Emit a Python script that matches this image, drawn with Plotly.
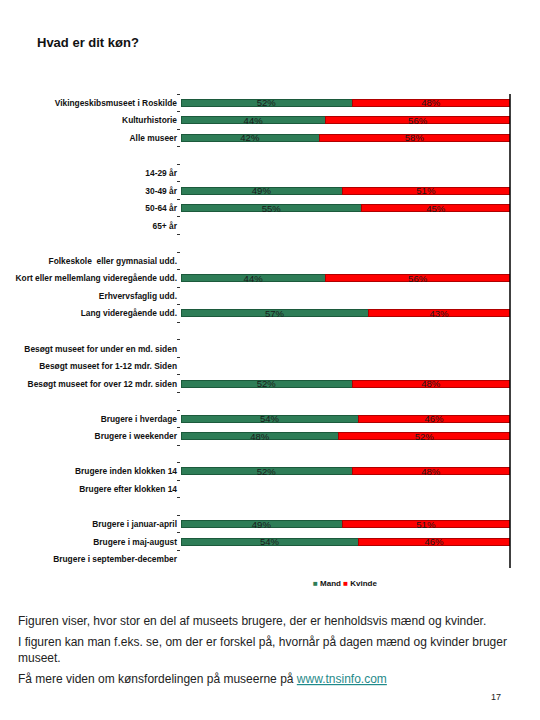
import plotly.graph_objects as go

categories = [
    "Vikingeskibsmuseet i Roskilde", "Kulturhistorie", "Alle museer", " ",
    "14-29 år", "30-49 år", "50-64 år", "65+ år", "  ",
    "Folkeskole  eller gymnasial udd.", "Kort eller mellemlang videregående udd.",
    "Erhvervsfaglig udd.", "Lang videregående udd.", "   ",
    "Besøgt museet for under en md. siden", "Besøgt museet for 1-12 mdr. Siden",
    "Besøgt museet for over 12 mdr. siden", "    ",
    "Brugere i hverdage", "Brugere i weekender", "     ",
    "Brugere inden klokken 14", "Brugere efter klokken 14", "      ",
    "Brugere i januar-april", "Brugere i maj-august", "Brugere i september-december",
]
mand = [52, 44, 42, None, None, 49, 55, None, None, None, 44, None, 57, None,
        None, None, 52, None, 54, 48, None, 52, None, None, 49, 54, None]
kvinde = [48, 56, 58, None, None, 51, 45, None, None, None, 56, None, 43, None,
          None, None, 48, None, 46, 52, None, 48, None, None, 51, 46, None]

GREEN = "#2e7d57"
RED = "#ff0000"

def labels(vals):
    return [f"{v}%" if v is not None else "" for v in vals]

fig = go.Figure()
fig.add_trace(go.Bar(
    y=categories, x=mand, orientation="h", name="Mand",
    marker=dict(color=GREEN, line=dict(color="#1c5a3c", width=1)),
    text=labels(mand), textposition="inside", insidetextanchor="middle",
    textfont=dict(size=9.5, color="#1a1a1a", family="Arial, Liberation Sans"),
    hoverinfo="skip", showlegend=False,
))
fig.add_trace(go.Bar(
    y=categories, x=kvinde, orientation="h", name="Kvinde",
    marker=dict(color=RED, line=dict(color="#b00000", width=1)),
    text=labels(kvinde), textposition="inside", insidetextanchor="middle",
    textfont=dict(size=9.5, color="#1a1a1a", family="Arial, Liberation Sans"),
    hoverinfo="skip", showlegend=False,
))

OFF = 8  # page body margin
W, H = 532, 712
L, T = 181 - OFF, 94 - OFF
R = W - (510 - OFF)
B = H - (568 - OFF)
pw, ph = W - L - R, H - T - B

def px(x):
    return (x - OFF - L) / pw

def py(y):
    return (H - B - (y - OFF)) / ph

fig.update_layout(
    width=W, height=H, barmode="stack", bargap=0.6,
    margin=dict(l=L, r=R, t=T, b=B, autoexpand=False),
    plot_bgcolor="white", paper_bgcolor="white",
    font=dict(family="Arial, Liberation Sans", color="#111"),
    uniformtext=dict(minsize=9.5, mode="show"),
    showlegend=False,
    xaxis=dict(range=[0, 100], showticklabels=False, showgrid=False, zeroline=False,
               showline=False, ticks="", automargin=False),
    yaxis=dict(type="category", categoryorder="array", categoryarray=categories,
               autorange="reversed", showgrid=False, zeroline=False, showline=False,
               ticks="outside", tickson="boundaries", ticklen=3, tickcolor="#333",
               ticklabelstandoff=3, automargin=False,
               tickfont=dict(size=8.4, weight="bold", color="#111")),
)

fig.add_shape(type="line", xref="x domain", yref="y domain", x0=1, x1=1, y0=0, y1=1,
              line=dict(color="black", width=1.5))

# legend
fig.add_annotation(
    text=(f"<span style='color:{GREEN}'>■</span> Mand "
          f"<span style='color:{RED}'>■</span> Kvinde"),
    xref="paper", yref="paper", x=px(345), y=py(583), xanchor="center", yanchor="middle",
    showarrow=False, font=dict(family="Arial, Liberation Sans", size=8, color="#111", weight="bold"))

text_font = dict(family="Arial, Liberation Sans", size=12, color="#222")
fig.add_annotation(text="Hvad er dit køn?", xref="paper", yref="paper",
                   x=px(35), y=py(42), xanchor="left", yanchor="middle", showarrow=False,
                   font=dict(family="Arial, Liberation Sans", size=13, color="#111", weight="bold"))
paras = [
    ("Figuren viser, hvor stor en del af museets brugere, der er henholdsvis mænd og kvinder.", 621),
    ("I figuren kan man f.eks. se, om der er forskel på, hvornår på dagen mænd og kvinder bruger", 642),
    ("museet.", 658),
    ("Få mere viden om kønsfordelingen på museerne på "
     "<a href='http://www.tnsinfo.com' style='color:#1f8a8a'><u>www.tnsinfo.com</u></a>", 679),
]
for t, yy in paras:
    fig.add_annotation(text=t, xref="paper", yref="paper", x=px(16), y=py(yy),
                       xanchor="left", yanchor="middle", showarrow=False, font=text_font)
fig.add_annotation(text="17", xref="paper", yref="paper", x=px(503), y=py(697),
                   xanchor="right", yanchor="middle", showarrow=False,
                   font=dict(family="Arial, Liberation Sans", size=9, color="#222"))

fig.write_html("out.html")
